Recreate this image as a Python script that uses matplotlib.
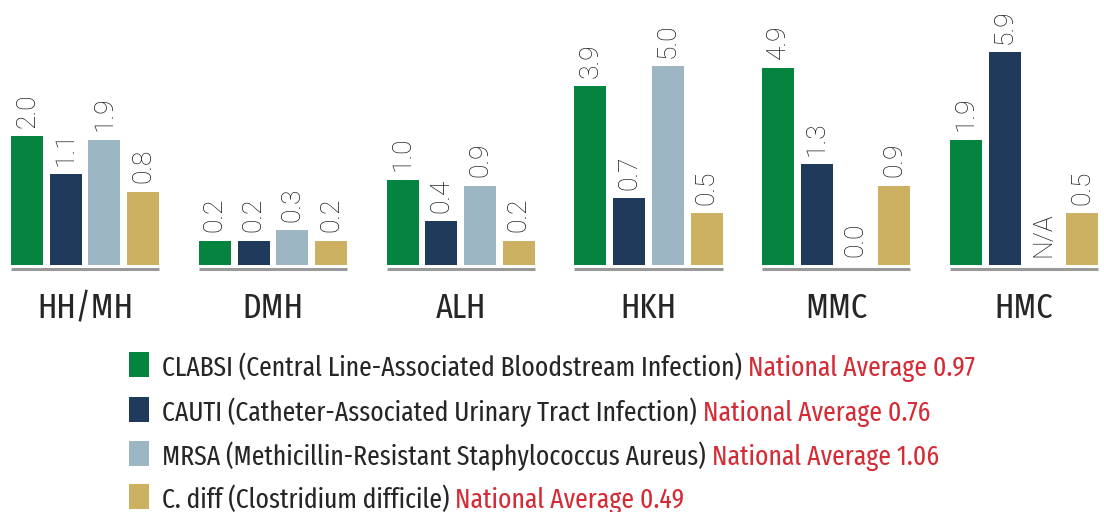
import numpy as np
import matplotlib
matplotlib.use('Agg')
import matplotlib.pyplot as plt
from matplotlib.patches import Rectangle
from matplotlib.transforms import offset_copy

# du lieu
hospitals = ['HH/MH', 'DMH', 'ALH', 'HKH', 'MMC', 'HMC']
clabsi = [2.0, 0.2, 1.0, 3.9, 4.9, 1.9]
cauti = [1.1, 0.2, 0.4, 0.7, 1.3, 5.9]
mrsa = [1.9, 0.3, 0.9, 5.0, 0.0, np.nan]
cdiff = [0.8, 0.2, 0.2, 0.5, 0.9, 0.5]

series_names = ['CLABSI (Central Line-Associated Bloodstream Infection)',
                'CAUTI (Catheter-Associated Urinary Tract Infection)',
                'MRSA (Methicillin-Resistant Staphylococcus Aureus)',
                'C. diff (Clostridium difficile)']
national_avg = [0.97, 0.76, 1.06, 0.49]

colors = ['#05843f', '#1f3a5a', '#9db6c3', '#cdb163']
red = '#d52b35'
text_dark = '#262626'
cond_fonts = ['Fira Sans Extra Condensed', 'Fira Sans Condensed', 'Asap Condensed', 'DejaVu Sans']

W, H = 1104, 512
fig = plt.figure(figsize=(W / 100, H / 100), dpi=100)
ax = fig.add_axes([0, 0, 1, 1])
ax.axis('off')

# truc y dang log(1 + 1.5v), doi xung quanh 0
fwd = lambda v: np.sign(v) * np.log1p(1.5 * np.abs(v))
inv = lambda v: np.sign(v) * np.expm1(np.abs(v)) / 1.5
ax.set_yscale('function', functions=(fwd, inv))
k = 93.0            # px tren 1 don vi
base_px = 265       # duong nen, tinh tu tren xuong
ax.set_ylim(inv(-(H - base_px) / k), inv(base_px / k))

pitch = 187.8
step = 38.7 / pitch
width = 32 / pitch
center0 = 11 + 16 + 1.5 * 38.7
ax.set_xlim(-center0 / pitch, (W - center0) / pitch)

x = np.arange(len(hospitals))
all_series = [clabsi, cauti, mrsa, cdiff]

for j, vals in enumerate(all_series):
    vals = np.array(vals, dtype=float)
    pos = x + (j - 1.5) * step
    heights = np.nan_to_num(vals)
    ax.bar(pos, heights, width=width, color=colors[j], linewidth=0)
    for p, v in zip(pos, vals):
        txt = 'N/A' if np.isnan(v) else f'{v:.1f}'
        ax.annotate(txt, (p, 0 if np.isnan(v) else v), xytext=(0, 6), textcoords='offset points',
                    rotation=90, ha='center', va='bottom', fontsize=19, color='#1a1a1a',
                    family=['Roboto', 'DejaVu Sans'], fontweight='light')

# duong nen mau xam duoi moi nhom
base_tr = offset_copy(ax.transData, fig=fig, x=0, y=-3.5, units='dots')
for i in x:
    ax.hlines(0, i - 1.5 * step - width / 2, i + 1.5 * step + width / 2, color='#999999',
              linewidth=2.2, transform=base_tr)

# ten benh vien
for i, name in enumerate(hospitals):
    ax.text(i, 1 - 318 / H, name, transform=ax.get_xaxis_transform(), ha='center', va='baseline',
            fontsize=25, color=text_dark, family=cond_fonts)

# chu giai
legend_font = dict(fontsize=20, family=cond_fonts)
row_centers = [364.5, 409.5, 453.5, 496.5]
black_texts = []
for j, name in enumerate(series_names):
    yc = row_centers[j]
    fig.add_artist(Rectangle((129 / W, 1 - (yc + 12.5) / H), 20 / W, 25 / H,
                             transform=fig.transFigure, color=colors[j], linewidth=0))
    t = fig.text(162 / W, 1 - (yc + 11.5) / H, name, va='baseline', ha='left', color=text_dark, **legend_font)
    black_texts.append(t)

fig.canvas.draw()
renderer = fig.canvas.get_renderer()
for j, t in enumerate(black_texts):
    bb = t.get_window_extent(renderer)
    yc = row_centers[j]
    fig.text((bb.x1 + 6) / W, 1 - (yc + 11.5) / H, f'National Average {national_avg[j]}',
             va='baseline', ha='left', color=red, **legend_font)

fig.savefig('out.png', dpi=100)
